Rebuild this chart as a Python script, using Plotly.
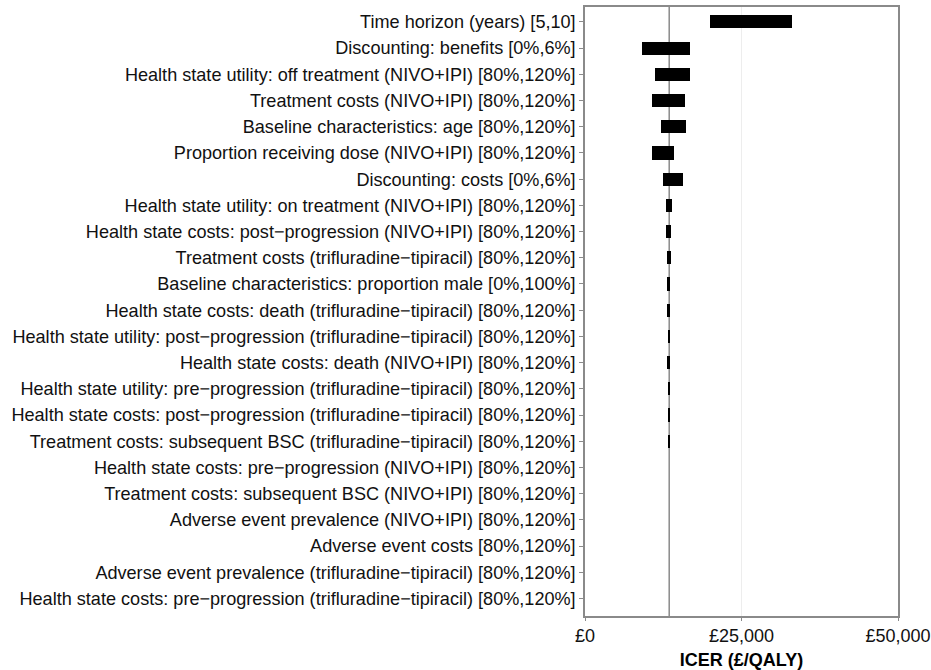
import plotly.graph_objects as go

# One-way sensitivity analysis: ICER range for each parameter
parameters = [
    "Time horizon (years) [5,10]",
    "Discounting: benefits [0%,6%]",
    "Health state utility: off treatment (NIVO+IPI) [80%,120%]",
    "Treatment costs (NIVO+IPI) [80%,120%]",
    "Baseline characteristics: age [80%,120%]",
    "Proportion receiving dose (NIVO+IPI) [80%,120%]",
    "Discounting: costs [0%,6%]",
    "Health state utility: on treatment (NIVO+IPI) [80%,120%]",
    "Health state costs: post\u2212progression (NIVO+IPI) [80%,120%]",
    "Treatment costs (trifluradine\u2212tipiracil) [80%,120%]",
    "Baseline characteristics: proportion male [0%,100%]",
    "Health state costs: death (trifluradine\u2212tipiracil) [80%,120%]",
    "Health state utility: post\u2212progression (trifluradine\u2212tipiracil) [80%,120%]",
    "Health state costs: death (NIVO+IPI) [80%,120%]",
    "Health state utility: pre\u2212progression (trifluradine\u2212tipiracil) [80%,120%]",
    "Health state costs: post\u2212progression (trifluradine\u2212tipiracil) [80%,120%]",
    "Treatment costs: subsequent BSC (trifluradine\u2212tipiracil) [80%,120%]",
    "Health state costs: pre\u2212progression (NIVO+IPI) [80%,120%]",
    "Treatment costs: subsequent BSC (NIVO+IPI) [80%,120%]",
    "Adverse event prevalence (NIVO+IPI) [80%,120%]",
    "Adverse event costs [80%,120%]",
    "Adverse event prevalence (trifluradine\u2212tipiracil) [80%,120%]",
    "Health state costs: pre\u2212progression (trifluradine\u2212tipiracil) [80%,120%]",
]

icer_low = [19900, 9100, 11200, 10700, 12100, 10700, 12450, 12870, 12980, 13090,
            13100, 13150, 13200, 13250, 13300, 13330, 13350, 13450, 13450, 13450,
            13450, 13450, 13450]
icer_high = [33000, 16700, 16700, 16000, 16100, 14200, 15600, 13900, 13780, 13670,
             13650, 13600, 13600, 13550, 13500, 13500, 13500, 13450, 13450, 13450,
             13450, 13450, 13450]

base_icer = 13450

x_ticks = [0, 25000, 50000]
x_tick_labels = ["\u00a30", "\u00a325,000", "\u00a350,000"]

fig = go.Figure()
fig.add_trace(go.Bar(
    y=parameters,
    x=[h - l for l, h in zip(icer_low, icer_high)],
    base=icer_low,
    orientation="h",
    width=0.5,
    marker=dict(color="black", line=dict(width=0)),
    showlegend=False,
))

fig.add_shape(type="line", xref="x", yref="paper", x0=base_icer, x1=base_icer,
              y0=0, y1=1, line=dict(color="#8a8a8a", width=1.5), layer="below")

font_family = "Liberation Sans, Arial, sans-serif"

fig.update_layout(
    width=931, height=670,
    margin=dict(l=585, r=33, t=7, b=54),
    plot_bgcolor="white", paper_bgcolor="white",
    font=dict(family=font_family, size=18, color="#111111"),
    bargap=0,
    xaxis=dict(
        range=[0, 50000], tickvals=x_ticks, ticktext=x_tick_labels,
        automargin=False,
        showgrid=True, gridcolor="#ededed", gridwidth=1,
        zeroline=False,
        showline=True, mirror=True, linecolor="#8a8a8a", linewidth=1.5,
        ticks="outside", ticklen=3, tickcolor="#8a8a8a",
        tickfont=dict(size=18, color="#111111"),
        title=dict(text="<b>ICER (\u00a3/QALY)</b>", font=dict(size=18, color="#000000"), standoff=14),
    ),
    yaxis=dict(
        type="category", range=[len(parameters) - 0.33, -0.57],
        automargin=False,
        showgrid=False, zeroline=False,
        showline=True, mirror=True, linecolor="#8a8a8a", linewidth=1.5,
        ticks="outside", ticklen=4, tickcolor="#8a8a8a",
        tickfont=dict(size=18.1, color="#111111"),
    ),
)

fig.write_html("out.html")
